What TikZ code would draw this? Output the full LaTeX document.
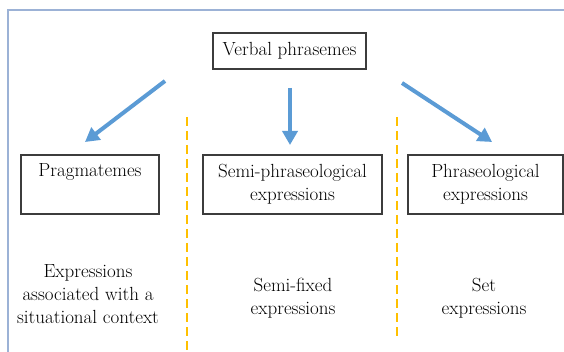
\documentclass[tikz,border=0pt]{standalone}
\usetikzlibrary{arrows.meta}
\definecolor{framecol}{RGB}{156,178,214}
\definecolor{arrowcol}{RGB}{91,155,213}
\definecolor{sepcol}{RGB}{255,192,0}
\definecolor{boxcol}{RGB}{60,60,60}
\begin{document}
\begin{tikzpicture}[x=1pt,y=-1pt,
  every node/.style={font=\fontsize{19}{23}\selectfont, text=black},
  catbox/.style={draw=boxcol, line width=1.2pt, inner sep=0pt, align=center},
  note/.style={align=center, inner sep=0pt},
  branch/.style={draw=arrowcol, line width=4pt,
    -{Triangle[length=14pt,width=15pt]}, shorten >=0pt},
  divider/.style={draw=sepcol, line width=2.5pt, dash pattern=on 9pt off 5pt}]
  \useasboundingbox (0,0) rectangle (564,352);
  % outer frame, open to the right and bottom
  \draw[framecol, line width=1.5pt] (8,352) -- (8,10) -- (570,10);

  % root
  \node[catbox, minimum width=153pt, minimum height=36pt] (root) at (289.5,51) {Verbal phrasemes};

  % three categories
  \node[catbox, minimum width=138pt, minimum height=59pt] (prag) at (90,184.5) {Pragmatemes\\\strut};
  \node[catbox, minimum width=179pt, minimum height=59pt] (semi) at (292.5,184.5) {Semi-phraseological\\expressions};
  \node[catbox, minimum width=155pt, minimum height=59pt] (phra) at (485.5,184.5) {Phraseological\\expressions};

  % descriptions
  \node[note] (pragd) at (88,294) {Expressions\\associated with a\\situational context};
  \node[note] (semid) at (293,298) {Semi-fixed\\expressions};
  \node[note] (phrad) at (484,298) {Set\\expressions};

  % arrow ends
  \coordinate (l0) at (165,81);  \coordinate (l1) at (85,142);
  \coordinate (m0) at (290,88);  \coordinate (m1) at (290,145);
  \coordinate (r0) at (402,83);  \coordinate (r1) at (492,142);
  \draw[branch] (l0) -- (l1);
  \draw[branch] (m0) -- (m1);
  \draw[branch] (r0) -- (r1);

  % column dividers
  \coordinate (d1a) at (187,117); \coordinate (d1b) at (187,352);
  \coordinate (d2a) at (397,117); \coordinate (d2b) at (397,340);
  \draw[divider] (d1a) -- (d1b);
  \draw[divider] (d2a) -- (d2b);
\end{tikzpicture}
\end{document}
